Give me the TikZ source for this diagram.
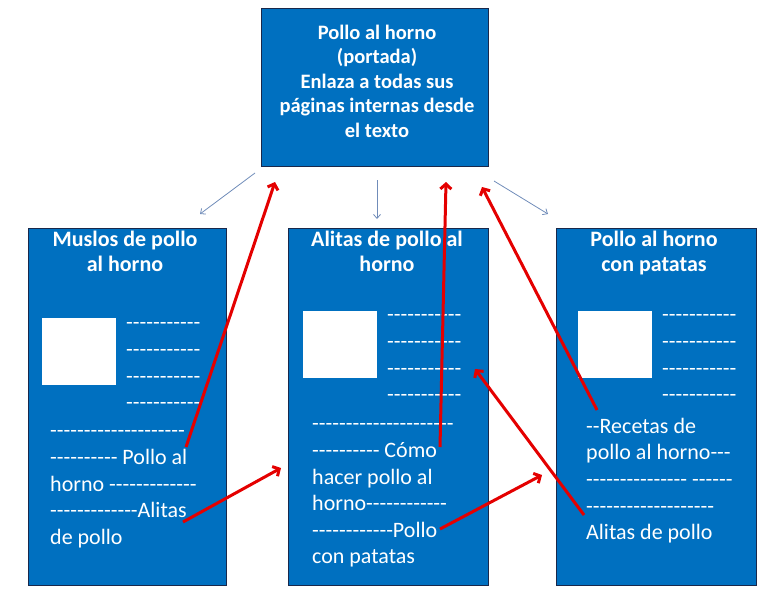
\documentclass[tikz,border=0pt]{standalone}
\usepackage{fontspec}
\setmainfont{Carlito}[Ligatures=TeXOff]
\usetikzlibrary{arrows.meta,positioning}
\definecolor{pageblue}{RGB}{0,112,192}
\definecolor{pageedge}{RGB}{25,40,75}
\definecolor{linkred}{RGB}{228,0,0}
\definecolor{mapgray}{RGB}{112,140,185}
% a run of n hyphens
\ExplSyntaxOn
\newcommand\hy[1]{\prg_replicate:nn{#1}{-}}
\ExplSyntaxOff
\begin{document}
\begin{tikzpicture}[x=1pt, y=-1pt,
  page/.style={rectangle, draw=pageedge, fill=pageblue, line width=1pt, minimum width=200pt, minimum height=357pt, inner sep=0pt},
  photo/.style={rectangle, fill=white, minimum width=74pt, minimum height=67pt, inner sep=0pt},
  head/.style={text=white, font=\fontsize{22}{25}\selectfont\bfseries, align=center, inner sep=0pt, anchor=north},
  body/.style={text=white, font=\fontsize{22}{26.6}\selectfont, align=left, inner sep=0pt, anchor=north west},
  link/.style={draw=linkred, line width=3pt, -{Straight Barb[length=5pt,width=11pt]}},
  map/.style={draw=mapgray, line width=0.8pt, -{Straight Barb[length=4pt,width=7pt]}}]
\useasboundingbox (0,0) rectangle (778,605);
% pages
\node [page, minimum width=227pt, minimum height=158pt] (portada) at (374.5,87) {};
\node [page, minimum width=198pt] (muslos) at (127,406.5) {};
\node [page] (alitas) at (388,406.5) {};
\node [page] (patatas) at (656,406.5) {};
% titles
\node [head, font=\fontsize{20.5}{24.5}\selectfont\bfseries] (portadaT) at (377,22) {\strut Pollo al horno\\(portada)\\Enlaza a todas sus\\páginas internas desde\\el texto};
\node [head] (muslosT) at (125,228.5) {\strut Muslos de pollo\\al horno};
\node [head] (alitasT) at (387,228.5) {\strut Alitas de pollo al\\horno};
\node [head] (patatasT) at (654,228.5) {\strut Pollo al horno\\con patatas};
% pictures
\node [photo] (muslosP) at (78.5,351.5) {};
\node [photo] (alitasP) at (339.5,344.5) {};
\node [photo] (patatasP) at (615,344.5) {};
% text
\begin{scope}[every node/.style={body}]
\node (muslosD) at (126,311) {\strut\hy{11}\\\hy{11}\\\hy{11}\\\hy{11}};
\node (alitasD) at (387,303) {\strut\hy{11}\\\hy{11}\\\hy{11}\\\hy{11}};
\node (patatasD) at (662,303) {\strut\hy{11}\\\hy{11}\\\hy{11}\\\hy{11}};
\node (muslosB) at (50,419) {\strut\hy{20}\\\hy{10} Pollo al\\horno \hy{13}\\\hy{13}Alitas\\de pollo};
\node (alitasB) at (312,412) {\strut\hy{21}\\\hy{10} Cómo\\hacer pollo al\\horno\hy{12}\\\hy{12}Pollo\\con patatas};
\node (patatasB) at (586,414.5) {\strut\hy{2}Recetas de\\pollo al horno\hy{3}\\\hy{15} \hy{6}\\\hy{19}\\Alitas de pollo};
\end{scope}
% link ends
\coordinate (a1) at (186,447);
\coordinate (b1) at (275,182);
\coordinate (a2) at (183,522);
\coordinate (b2) at (281,468);
\coordinate (a3) at (440,447);
\coordinate (b3) at (446,182);
\coordinate (a4) at (440,529);
\coordinate (b4) at (542,475);
\coordinate (a5) at (597,410);
\coordinate (b5) at (482,187);
\coordinate (a6) at (584,515);
\coordinate (b6) at (475,369);
\coordinate (m1) at (255,173);
\coordinate (n1) at (200,214);
\coordinate (m2) at (377,180);
\coordinate (n2) at (377,219);
\coordinate (m3) at (494,181);
\coordinate (n3) at (548,214);
% site map
\draw [map] (m1) -- (n1);
\draw [map] (m2) -- (n2);
\draw [map] (m3) -- (n3);
% links
\draw [link] (a1) -- (b1);
\draw [link] (a2) -- (b2);
\draw [link] (a3) -- (b3);
\draw [link] (a4) -- (b4);
\draw [link] (a5) -- (b5);
\draw [link] (a6) -- (b6);
\end{tikzpicture}
\end{document}
